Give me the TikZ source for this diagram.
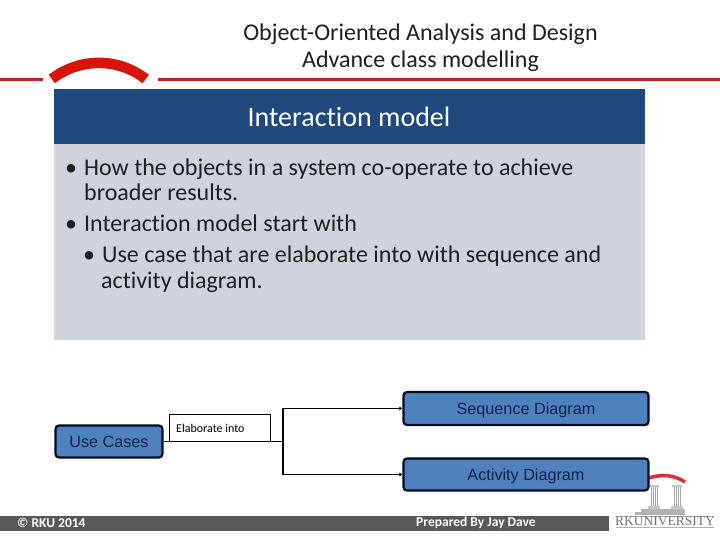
\documentclass[tikz,border=0pt]{standalone}
\usepackage{fontspec}
\usetikzlibrary{arrows.meta}
\setmainfont[Ligatures=NoCommon]{Carlito}
\newfontfamily\arialfont{Liberation Sans}
\newfontfamily\logofont{Liberation Serif}
\definecolor{rkured}{HTML}{C8201C}
\definecolor{archred}{HTML}{D81408}
\definecolor{logored}{HTML}{DC3038}
\definecolor{headblue}{HTML}{1F497D}
\definecolor{panelgray}{HTML}{CFD3DC}
\definecolor{boxblue}{HTML}{4F81BD}
\definecolor{boxline}{HTML}{000B24}
\definecolor{barcolor}{HTML}{595959}
\definecolor{boxtext}{HTML}{0F2450}
\tikzset{
  diabox/.style={draw=boxline, line width=2.2pt, fill=boxblue, rounded corners=3.5pt, text=boxtext, font=\arialfont\fontsize{16.2}{18}\selectfont, inner sep=0pt, text height=12pt, text depth=0pt},
  bodytext/.style={anchor=base west, inner sep=0pt, text=black!88, font=\fontsize{24}{26}\selectfont},
  bartext/.style={inner sep=0pt, text=white, font=\bfseries\fontsize{13.5}{15}\selectfont},
  flowline/.style={line width=1.6pt, black}
}
\begin{document}
\begin{tikzpicture}[x=1pt,y=-1pt]
  \useasboundingbox (0,0) rectangle (720,540);

  % header
  \node (title) at (420.5,48) [align=center, inner sep=0pt, font=\fontsize{24}{27}\selectfont, text=black!88] {Object-Oriented Analysis and Design\\Advance class modelling};
  \fill[rkured] (0,78) rectangle (43,81);
  \fill[rkured] (158,78) rectangle (720,81);
  \draw[archred, line width=10.5pt] (51.7,79) .. controls (80,57.5) and (118,57.5) .. (145.7,79);

  % panel
  \fill[panelgray] (54,144) rectangle (645,340);
  \fill[headblue] (54,89) rectangle (645,144);
  \node (head) at (349,117) [text=white, inner sep=0pt, font=\fontsize{28}{30}\selectfont] {Interaction model};
  \node (b1) at (65,176) [bodytext] {•};
  \node (t1) at (84,176) [bodytext] {How the objects in a system co-operate to achieve};
  \node (t1b) at (84,201) [bodytext] {broader results.};
  \node (b2) at (65,231) [bodytext] {•};
  \node (t2) at (84,231) [bodytext] {Interaction model start with};
  \node (b3) at (83,262) [bodytext] {•};
  \node (t3) at (102,262) [bodytext] {Use case that are elaborate into with sequence and};
  \node (t3b) at (101,288) [bodytext] {activity diagram.};

  % logo
  \foreach \px in {650,673} {
    \fill[gray!45] (\px-1,485) rectangle (\px+9,487);
    \foreach \fx in {1,3,5,7} \draw[gray!70, line width=0.8pt] (\px+\fx,487) -- (\px+\fx,506);
    \fill[gray!45] (\px-2,506) rectangle (\px+10,509);
  }
  \fill[gray!60] (641,509) rectangle (685,512);
  \fill[gray!60] (635,512) rectangle (685,515);
  \draw[logored, line width=3.5pt] (645,479) .. controls (660,474) and (673,474) .. (685,482);
  \draw[gray!60, line width=0.6pt] (616,516) -- (714,516);
  \draw[gray!60, line width=0.6pt] (616,527) -- (714,527);
  \node (logo) at (665,525) [anchor=base, inner sep=0pt, text=black!55, font=\logofont\fontsize{13.5}{14}\selectfont] {RKUNIVERSITY};

  % diagram
  \node (usecases) at (109,441.5) [diabox, minimum width=107pt, minimum height=32pt] {Use Cases};
  \node (seq) at (526,408.5) [diabox, minimum width=245pt, minimum height=33pt] {Sequence Diagram};
  \node (act) at (526,474.5) [diabox, minimum width=245pt, minimum height=32pt] {Activity Diagram};
  \node (label) at (219.5,427.5) [draw=black, line width=0.6pt, fill=white, minimum width=101pt, minimum height=27pt, inner sep=0pt] {};
  \node (labeltext) at (176,428) [anchor=west, inner sep=0pt, font=\fontsize{12}{13}\selectfont] {Elaborate into};
  \coordinate (split) at (283,441.5);
  \draw[flowline] (usecases) -- (split);
  \draw[flowline, -{Latex[length=3pt,width=4pt]}] (split) |- (seq);
  \draw[flowline, -{Latex[length=3pt,width=4pt]}] (split) |- (act);

  % footer
  \fill[barcolor] (0,516) rectangle (609,531);
  \node (copy) at (17,523) [anchor=west, bartext] {© RKU 2014};
  \node (prep) at (476,523) [bartext] {Prepared By Jay Dave};
\end{tikzpicture}
\end{document}
